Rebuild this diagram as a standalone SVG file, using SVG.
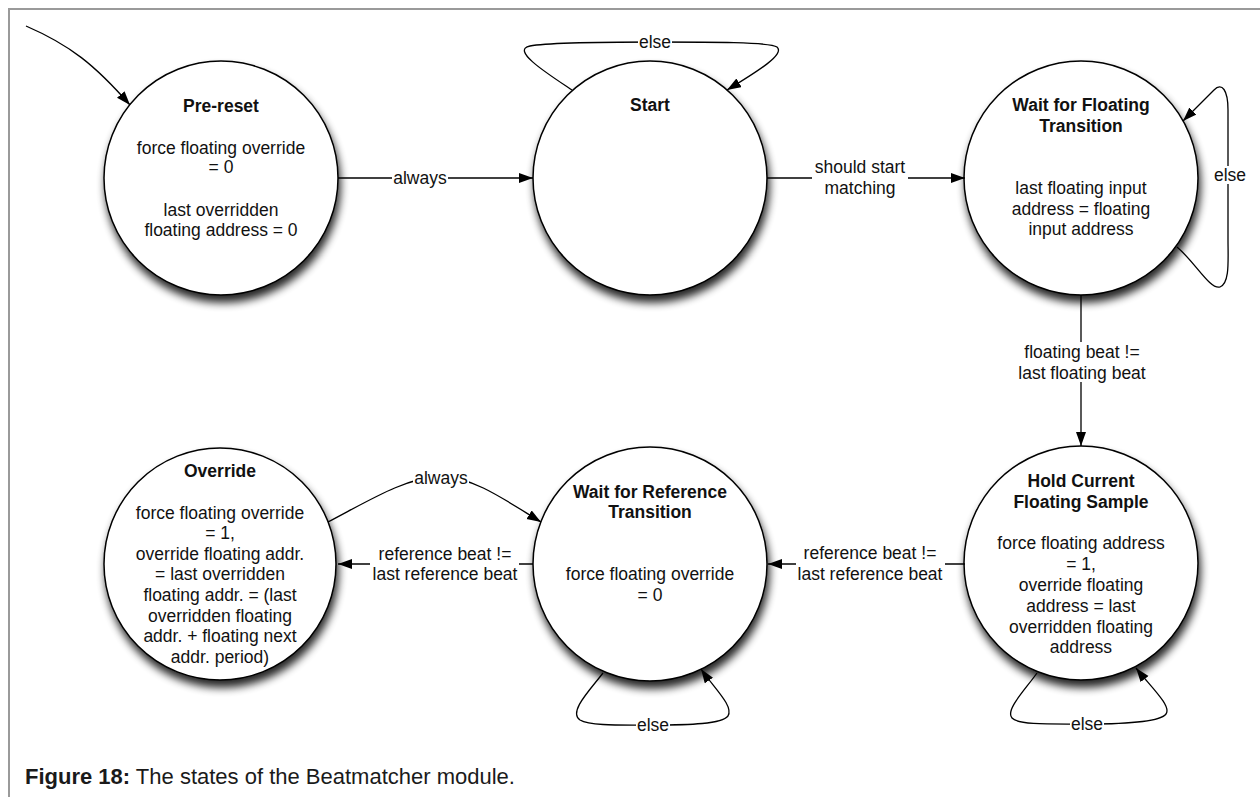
<svg xmlns="http://www.w3.org/2000/svg" width="1260" height="797" viewBox="0 0 1260 797">
  <style>
    text { font-family: "Liberation Sans", Arial, Helvetica, sans-serif; font-size: 17.5px; fill: #111; text-anchor: middle; }
    .title { font-weight: bold; }
    .state { fill: #fff; stroke: #000; stroke-width: 1.5; filter: url(#shadow); }
    .edge { fill: none; stroke: #000; stroke-width: 1.3; marker-end: url(#arrow); }
    .lbg { fill: #fff; }
    .frame { stroke: #9a9a9a; stroke-width: 2; fill: none; }
    .caption { text-anchor: start; font-size: 22px; fill: #1a1a1a; }
  </style>
  <defs>
    <filter id="shadow" x="-20%" y="-20%" width="140%" height="150%">
      <feGaussianBlur in="SourceAlpha" stdDeviation="4"/>
      <feOffset dx="2" dy="7" result="blur"/>
      <feComponentTransfer><feFuncA type="linear" slope="0.85"/></feComponentTransfer>
      <feMerge><feMergeNode/><feMergeNode in="SourceGraphic"/></feMerge>
    </filter>
    <marker id="arrow" markerUnits="userSpaceOnUse" markerWidth="15" markerHeight="11" refX="14" refY="5" orient="auto">
      <path d="M0,0 L14,5 L0,10 z" fill="#000"/>
    </marker>
  </defs>

  <rect width="1260" height="797" fill="#fff"/>
  <path class="frame" d="M9,797 L9,9 L1260,9"/>

  <!-- states -->
  <g id="pre-reset">
    <circle class="state" cx="221" cy="178" r="117"/>
    <text class="title" x="221" y="112">Pre-reset</text>
    <text x="221" y="154">force floating override</text>
    <text x="221" y="173">= 0</text>
    <text x="221" y="216">last overridden</text>
    <text x="221" y="236">floating address = 0</text>
  </g>
  <g id="start">
    <circle class="state" cx="650" cy="178" r="117"/>
    <text class="title" x="650" y="111">Start</text>
  </g>
  <g id="wait-floating">
    <circle class="state" cx="1081" cy="178" r="117"/>
    <text class="title" x="1081" y="111">Wait for Floating</text>
    <text class="title" x="1081" y="132">Transition</text>
    <text x="1081" y="194">last floating input</text>
    <text x="1081" y="215">address = floating</text>
    <text x="1081" y="235">input address</text>
  </g>
  <g id="hold-sample">
    <circle class="state" cx="1081" cy="563" r="117"/>
    <text class="title" x="1081" y="487">Hold Current</text>
    <text class="title" x="1081" y="508">Floating Sample</text>
    <text x="1081" y="549">force floating address</text>
    <text x="1081" y="570">= 1,</text>
    <text x="1081" y="591">override floating</text>
    <text x="1081" y="612">address = last</text>
    <text x="1081" y="633">overridden floating</text>
    <text x="1081" y="653">address</text>
  </g>
  <g id="wait-reference">
    <circle class="state" cx="650" cy="564" r="117"/>
    <text class="title" x="650" y="498">Wait for Reference</text>
    <text class="title" x="650" y="518">Transition</text>
    <text x="650" y="580">force floating override</text>
    <text x="650" y="601">= 0</text>
  </g>
  <g id="override">
    <circle class="state" cx="220" cy="564" r="116"/>
    <text class="title" x="220" y="477">Override</text>
    <text x="220" y="519">force floating override</text>
    <text x="220" y="539">= 1,</text>
    <text x="220" y="560">override floating addr.</text>
    <text x="220" y="580">= last overridden</text>
    <text x="220" y="601">floating addr. = (last</text>
    <text x="220" y="622">overridden floating</text>
    <text x="220" y="642">addr. + floating next</text>
    <text x="220" y="663">addr. period)</text>
  </g>

  <!-- transitions -->
  <g id="connectors">
    <path class="edge" d="M26,26 C70,45 95,65 130,105"/>

    <path class="edge" d="M338,178 L533,178"/>
    <rect class="lbg" x="392" y="169" width="56" height="18"/>
    <text x="420" y="184">always</text>

    <path class="edge" d="M572,90 C548,74 510,50 530,46 C545,43 600,42 655,42 C710,42 770,42 777,47 C785,54 760,70 727,90"/>
    <rect class="lbg" x="638" y="33" width="34" height="18"/>
    <text x="655" y="48">else</text>

    <path class="edge" d="M767,178 L965,178"/>
    <rect class="lbg" x="812" y="158" width="96" height="40"/>
    <text x="860" y="173">should start</text>
    <text x="860" y="194">matching</text>

    <path class="edge" d="M1177,247 C1195,262 1210,290 1220,287 C1230,283 1228,260 1228,240 L1228,110 C1228,90 1222,82 1214,90 L1183,121"/>
    <rect class="lbg" x="1213" y="166" width="34" height="18"/>
    <text x="1230" y="181">else</text>

    <path class="edge" d="M1081,295 L1081,446"/>
    <rect class="lbg" x="1016" y="342" width="131" height="40"/>
    <text x="1082" y="358">floating beat !=</text>
    <text x="1082" y="379">last floating beat</text>

    <path class="edge" d="M1037,673 C1025,690 1005,710 1012,718 C1018,725 1050,724 1087,724 C1125,724 1160,722 1166,714 C1172,706 1150,686 1136,668"/>
    <rect class="lbg" x="1070" y="715" width="34" height="18"/>
    <text x="1087" y="730">else</text>

    <path class="edge" d="M965,564 L768,564"/>
    <rect class="lbg" x="796" y="543" width="149" height="40"/>
    <text x="870" y="559">reference beat !=</text>
    <text x="870" y="580">last reference beat</text>

    <path class="edge" d="M603,673 C590,690 568,712 580,720 C590,726 620,725 653,725 C690,725 722,724 728,716 C734,706 714,688 701,669"/>
    <rect class="lbg" x="636" y="716" width="34" height="18"/>
    <text x="653" y="731">else</text>

    <path class="edge" d="M533,564 L338,564"/>
    <rect class="lbg" x="370" y="544" width="149" height="40"/>
    <text x="445" y="560">reference beat !=</text>
    <text x="445" y="580">last reference beat</text>

    <path class="edge" d="M328,522 C370,500 405,478 441,476 C475,478 505,500 541,522"/>
    <rect class="lbg" x="413" y="468" width="56" height="18"/>
    <text x="441" y="484">always</text>
  </g>

  <text class="caption" x="25" y="784"><tspan font-weight="bold">Figure 18:</tspan> The states of the Beatmatcher module.</text>
</svg>
